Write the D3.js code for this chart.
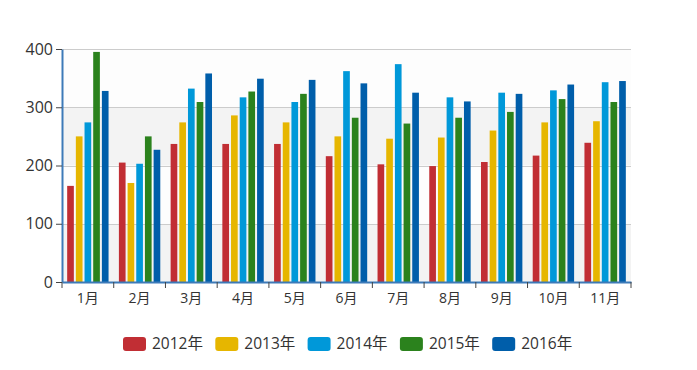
<!DOCTYPE html>
<html>
<head>
<meta charset="utf-8">
<script src="https://cdn.jsdelivr.net/npm/d3@7"></script>
<style>
  body { margin: 0; background: #fff; }
  svg text { font-family: "Open Sans", "Noto Sans CJK SC", sans-serif; }
</style>
</head>
<body>
<div id="chart"></div>
<script>
// Monthly values per year
const months = ['1月', '2月', '3月', '4月', '5月', '6月', '7月', '8月', '9月', '10月', '11月'];
const years = ['2012年', '2013年', '2014年', '2015年', '2016年'];
const s2012 = [165, 205, 237, 237, 237, 216, 202, 199, 206, 217, 239];
const s2013 = [250, 170, 274, 286, 274, 250, 246, 248, 260, 274, 276];
const s2014 = [274, 203, 332, 317, 309, 362, 374, 317, 325, 329, 343];
const s2015 = [395, 250, 309, 327, 323, 282, 272, 282, 292, 314, 309];
const s2016 = [328, 227, 358, 349, 347, 341, 325, 310, 323, 339, 345];
const yTicks = [0, 100, 200, 300, 400];
const colors = ['#c12e34', '#e6b600', '#0098d9', '#2b821d', '#005eaa'];

const series = [s2012, s2013, s2014, s2015, s2016];

const W = 697, H = 370;
const margin = { top: 49, right: 66, bottom: 88, left: 62 };
const width = W - margin.left - margin.right;
const height = H - margin.top - margin.bottom;

const svg = d3.select('#chart').append('svg')
  .attr('width', W)
  .attr('height', H);

const g = svg.append('g')
  .attr('transform', `translate(${margin.left},${margin.top})`);

const x0 = d3.scaleBand().domain(months).range([0, width]).padding(0);
const bw = x0.bandwidth();
const x1 = d3.scaleBand().domain(years).range([bw * 0.1, bw * 0.9]).paddingInner(0.3 / 1.3);
const y = d3.scaleLinear().domain([0, 400]).range([height, 0]);

// split area bands
const bands = yTicks.slice(0, -1).map((t, i) => [t, yTicks[i + 1], i]);
g.selectAll('.band')
  .data(bands)
  .enter()
  .append('rect')
  .attr('x', 0)
  .attr('width', width)
  .attr('y', d => y(d[1]))
  .attr('height', d => y(d[0]) - y(d[1]))
  .attr('fill', d => d[2] % 2 === 0 ? '#f3f3f3' : '#fdfdfd');

// grid lines
g.selectAll('.grid')
  .data(yTicks.slice(1))
  .enter()
  .append('line')
  .attr('x1', 0)
  .attr('x2', width)
  .attr('y1', d => Math.round(y(d)) + 0.5)
  .attr('y2', d => Math.round(y(d)) + 0.5)
  .attr('stroke', '#cccccc')
  .attr('stroke-width', 1);

// bars
const groups = g.selectAll('.month')
  .data(months)
  .enter()
  .append('g')
  .attr('transform', d => `translate(${x0(d)},0)`);

groups.selectAll('rect')
  .data((m, i) => years.map((yr, j) => ({ yr, j, v: series[j][i] })))
  .enter()
  .append('rect')
  .attr('x', d => x1(d.yr))
  .attr('width', x1.bandwidth())
  .attr('y', d => y(d.v))
  .attr('height', d => height - y(d.v))
  .attr('fill', d => colors[d.j]);

// y axis
const yAxis = g.append('g')
  .call(d3.axisLeft(y).tickValues(yTicks).tickSize(6).tickSizeOuter(0));
yAxis.select('.domain').attr('stroke', '#3d7ab8').attr('stroke-width', 2);
yAxis.selectAll('.tick line').attr('stroke', '#444');
yAxis.selectAll('.tick text')
  .attr('fill', '#333')
  .attr('x', -9)
  .style('font-size', '16px');

// x axis
const xAxis = g.append('g')
  .attr('transform', `translate(0,${height})`)
  .call(d3.axisBottom(x0).tickSize(0).tickSizeOuter(0));
xAxis.select('.domain').attr('stroke', '#3d7ab8').attr('stroke-width', 2);
xAxis.selectAll('.tick text')
  .attr('fill', '#333')
  .attr('dy', '1.25em')
  .style('font-size', '14px');
// boundary ticks
xAxis.selectAll('.bt')
  .data(months.concat(['end']))
  .enter()
  .append('line')
  .attr('x1', (d, i) => i * bw)
  .attr('x2', (d, i) => i * bw)
  .attr('y1', 0)
  .attr('y2', 6)
  .attr('stroke', '#444');

// legend
const legend = svg.append('g').attr('transform', 'translate(123,337)');
const item = legend.selectAll('.item')
  .data(years)
  .enter()
  .append('g')
  .attr('transform', (d, i) => `translate(${i * 92.3},0)`);
item.append('rect')
  .attr('width', 23)
  .attr('height', 14)
  .attr('rx', 3)
  .attr('fill', (d, i) => colors[i]);
item.append('text')
  .attr('x', 29)
  .attr('y', 7)
  .attr('dy', '0.35em')
  .attr('fill', '#333')
  .style('font-size', '15.5px')
  .text(d => d);
</script>
</body>
</html>
